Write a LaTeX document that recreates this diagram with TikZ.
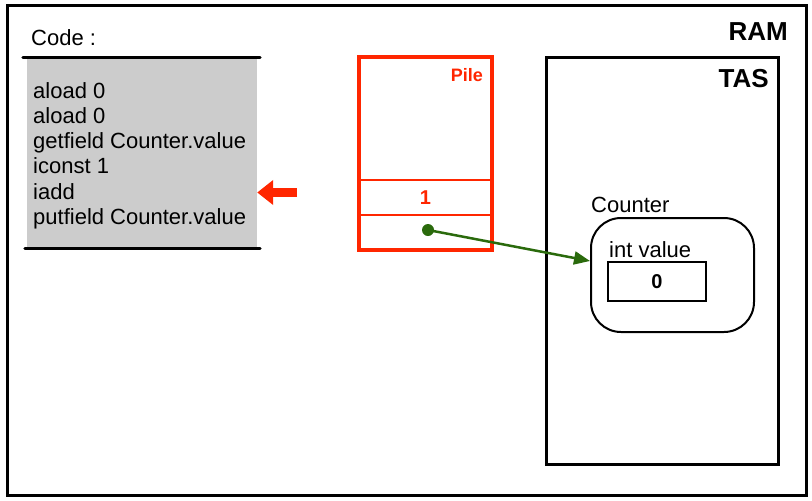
\documentclass[tikz,border=0pt]{standalone}
\usepackage{fontspec}
\setmainfont{Liberation Sans}
\usetikzlibrary{arrows.meta}

\definecolor{pilered}{HTML}{FF2600}
\definecolor{refgreen}{HTML}{2A6A0C}
\definecolor{codegray}{HTML}{CCCCCC}

\tikzset{
  membox/.style={draw,line width=3,inner sep=0},
  bigtitle/.style={font=\fontsize{26}{30}\selectfont\bfseries,inner sep=0},
  plain/.style={font=\fontsize{22}{26}\selectfont,inner sep=0},
  codeline/.style={plain,anchor=base west},
  slotcell/.style={draw=pilered,line width=2,inner sep=0,minimum width=133,minimum height=35,
    text=pilered,font=\fontsize{20}{23}\selectfont\bfseries},
  rule/.style={line width=3,line cap=round},
  pcarrow/.style={pilered,line width=9,-{Triangle[length=16,width=24]}},
  refarrow/.style={refgreen,line width=2.5,-{Triangle[length=16,width=13]}}
}

\begin{document}
\begin{tikzpicture}[x=1pt,y=-1pt]

      \useasboundingbox (0,0) rectangle (812,501);

      % memoire
      \node[membox,minimum width=799,minimum height=490] (ram) at (406.5,250) {};
      \node[bigtitle,anchor=base east] (ramlabel) at (788,40) {RAM};

      \node[membox,minimum width=232,minimum height=407] (tas) at (662,260.5) {};
      \node[bigtitle,anchor=base east] (taslabel) at (769,87) {TAS};

      % code
      \node[plain,anchor=base west] (codelabel) at (31,45) {Code :};
      \node[fill=codegray,inner sep=0,minimum width=230,minimum height=190] (code) at (142,153) {};
      \draw[rule] ([xshift=-4]code.north west) -- ([xshift=3]code.north east);
      \draw[rule] ([xshift=-2]code.south west) -- ([xshift=3]code.south east);

      \foreach \ins [count=\i] in {aload 0,aload 0,getfield Counter.value,iconst 1,iadd,putfield Counter.value}
        \node[codeline] (ins\i) at (33,72.7+25.3*\i) {\ins};

      \coordinate (pc) at (297,192.5);
      \draw[pcarrow] (pc) -- (code.east |- pc);

      % pile
      \node[slotcell] (slot1) at (425.5,197.5) {1};
      \node[slotcell] (slot2) at (425.5,232.5) {};
      \node[draw=pilered,line width=4,inner sep=0,minimum width=133,minimum height=193] (pile) at (425.5,153.5) {};
      \node[anchor=base east,inner sep=0,text=pilered,font=\fontsize{18}{21}\selectfont\bfseries] (pilelabel) at (483,81) {Pile};
      \node[circle,fill=refgreen,inner sep=0,minimum size=12] (ref) at (428,230) {};

      % objet
      \node[plain,anchor=base west] (objlabel) at (591,212) {Counter};
      \node[draw,line width=2,rounded corners=30,inner sep=0,minimum width=163,minimum height=114] (counter) at (672.5,275) {};
      \node[plain,anchor=base west] (fieldlabel) at (609,257) {int value};
      \node[draw,line width=2,inner sep=0,minimum width=98,minimum height=39,font=\fontsize{20}{23}\selectfont\bfseries] (value) at (657,281.5) {0};

      \draw[refarrow] (ref.center) -- (counter.west |- value.north);

    \end{tikzpicture}
\end{document}
